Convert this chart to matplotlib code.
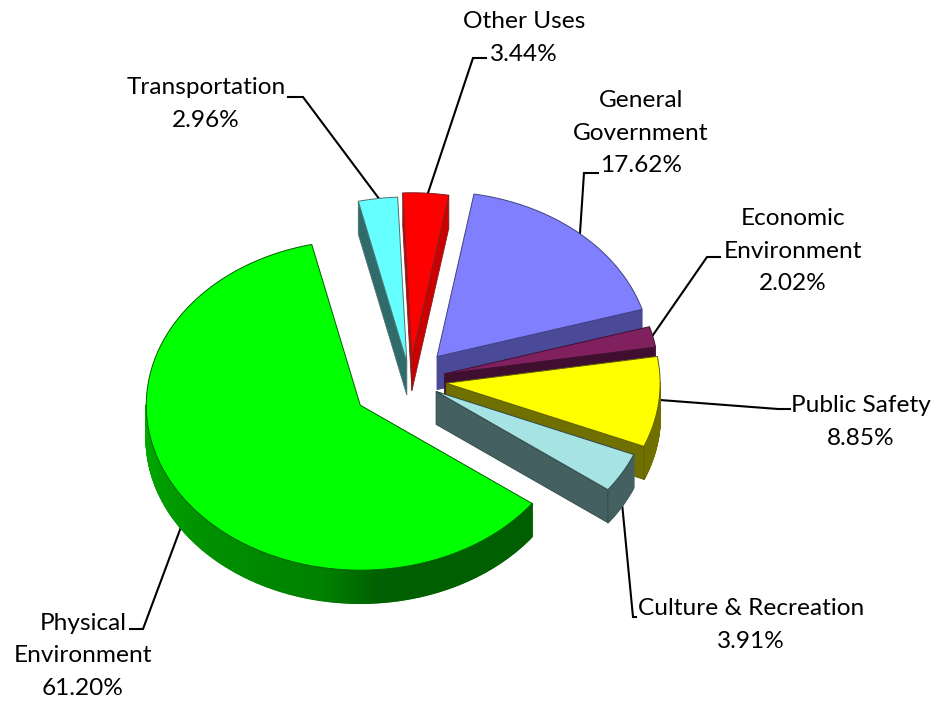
import numpy as np
import matplotlib
matplotlib.use('Agg')
import matplotlib.pyplot as plt
from matplotlib.patches import Polygon
from matplotlib.collections import PolyCollection

plt.rcParams['font.family'] = ['Lato', 'DejaVu Sans']

# Slices in clockwise order, starting from Transportation
categories = ['Transportation', 'Other Uses', 'General\nGovernment', 'Economic\nEnvironment',
              'Public Safety', 'Culture & Recreation', 'Physical\nEnvironment']
values = [2.96, 3.44, 17.62, 2.02, 8.85, 3.91, 61.20]

top_colors = ['#66FFFF', '#FF0000', '#8080FF', '#80205F', '#FFFF00', '#A6E3E3', '#00FF00']
side_colors = ['#2F6B6B', '#CC0000', '#4A4A99', '#400F30', '#707000', '#456060', '#005F00']
edge_colors = ['#507070', '#802020', '#404080', '#401030', '#606000', '#304848', '#006000']
explode = [0.11, 0.135, 0.19, 0.165, 0.17, 0.14, 0.278]

# Pie geometry, in figure pixels
CX, CY = 410, 380
RX, RY = 214, 165
DEPTH = 33
START_ANGLE = 346.9

# Label centres and leader line waypoints
label_pos = [(206, 104), (524, 38), (641, 133), (793, 251), (861, 422), (751, 625), (83, 656)]
leaders = [[(380, 200), (303, 97), (288, 97)],
           [(428, 193), (473, 58), (486, 58)],
           [(580, 233), (584, 173), (598, 173)],
           [(653, 335), (707, 257), (720, 257)],
           [(660, 400), (778, 409), (790, 409)],
           [(622, 503), (633, 617), (636, 617)],
           [(181, 527), (143, 629), (130, 629)]]


def rim_point(cx, cy, theta):
    t = np.radians(theta)
    return cx + RX * np.sin(t), cy - RY * np.cos(t)


def rim_shade(theta):
    # the wall gets lighter towards the left of the pie
    return np.interp(theta, [175, 190, 225, 270], [1.0, 1.35, 1.52, 1.8])


def draw_slice(ax, a0, a1, top, side, edge, off):
    cx = CX + off * RX * np.sin(np.radians((a0 + a1) / 2))
    cy = CY - off * RY * np.cos(np.radians((a0 + a1) / 2))
    thetas = np.linspace(a0, a1, max(int((a1 - a0) * 2), 4))
    xs, ys = rim_point(cx, cy, thetas)

    # outer wall, only the part turned to the viewer
    quads, cols = [], []
    base = np.array(matplotlib.colors.to_rgb(side))
    for i in range(len(thetas) - 1):
        mid = ((thetas[i] + thetas[i + 1]) / 2) % 360
        if 90 < mid < 270:
            quads.append([(xs[i], ys[i]), (xs[i + 1], ys[i + 1]),
                          (xs[i + 1], ys[i + 1] + DEPTH), (xs[i], ys[i] + DEPTH)])
            cols.append(np.clip(base * rim_shade(mid), 0, 1))
    if quads:
        # wide edges in the face colour so neighbouring strips leave no seams
        ax.add_collection(PolyCollection(quads, facecolors=cols, edgecolors=cols, lw=1.2, zorder=2))

    # flat walls along the two cut edges
    for ang, show in ((a0, np.sin(np.radians(a0)) < 0), (a1, np.sin(np.radians(a1)) > 0)):
        if show:
            x, y = rim_point(cx, cy, ang)
            ax.add_patch(Polygon([(cx, cy), (x, y), (x, y + DEPTH), (cx, cy + DEPTH)],
                                 closed=True, fc=side, ec=edge, lw=0.6, zorder=2))

    # top face
    pts = [(cx, cy)] + list(zip(xs, ys))
    ax.add_patch(Polygon(pts, closed=True, fc=top, ec=edge, lw=0.7, zorder=2))


fig = plt.figure(figsize=(9.35, 7.03), dpi=100)
ax = fig.add_axes([0, 0, 1, 1])
ax.set_xlim(0, 935)
ax.set_ylim(703, 0)
ax.axis('off')

# leader lines sit behind the slices
for pts in leaders:
    ax.plot([p[0] for p in pts], [p[1] for p in pts], color='black', lw=1.5, zorder=1,
            solid_joinstyle='miter')

sweeps = np.array(values) / sum(values) * 360
ends = START_ANGLE + np.cumsum(sweeps)
starts = ends - sweeps
for i in range(len(values)):
    draw_slice(ax, starts[i], ends[i], top_colors[i], side_colors[i], edge_colors[i], explode[i])

for name, val, (x, y) in zip(categories, values, label_pos):
    ax.text(x, y, f'{name}\n{val:.2f}%', ha='center', va='center', fontsize=17.6,
            linespacing=1.67, color='black', zorder=3)

plt.savefig('out.png', dpi=100)
